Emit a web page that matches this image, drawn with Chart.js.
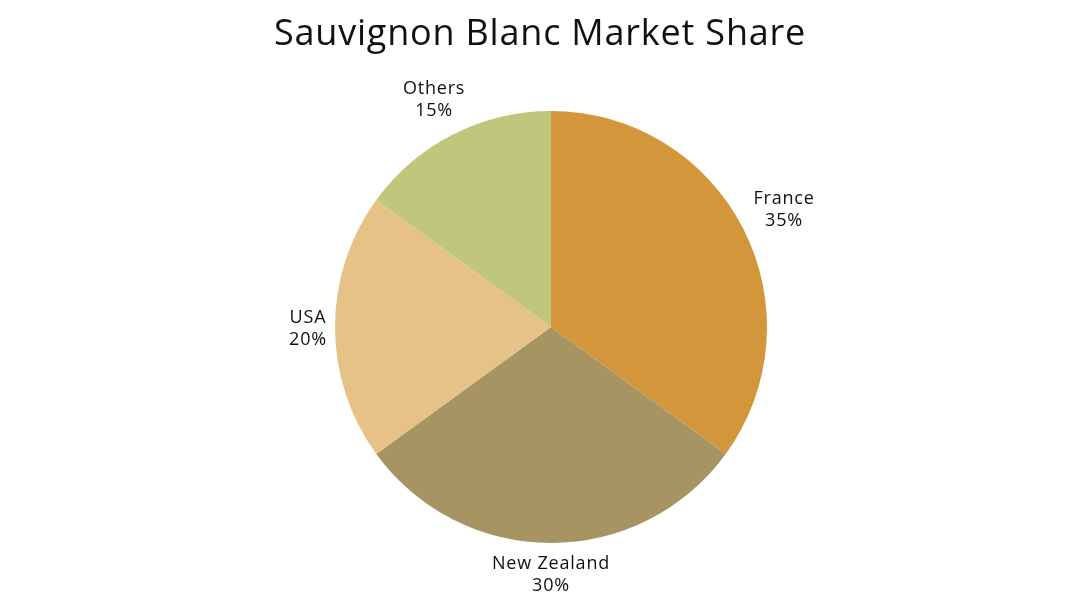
<!DOCTYPE html>
<html>
<head>
<meta charset="utf-8">
<script src="https://cdn.jsdelivr.net/npm/chart.js@4/dist/chart.umd.min.js"></script>
<style>
  html, body { margin: 0; padding: 0; background: #fff; }
  #wrap { width: 1080px; height: 607px; }
</style>
</head>
<body>
<div id="wrap"><canvas id="share-chart" width="1080" height="607"></canvas></div>
<script>
(function () {
    const chartTitle = 'Sauvignon Blanc Market Share';
    const categories = ['France', 'New Zealand', 'USA', 'Others'];
    const shares = [35, 30, 20, 15];
    const sliceColors = ['#D4963A', '#A69563', '#E6C288', '#C0C77D'];

    const fontFamily = "'Open Sans', 'Noto Sans', sans-serif";

    // title drawn by hand so it centres on the canvas, not on the pie
    const titlePlugin = {
        id: 'canvasTitle',
        afterDraw(chart) {
            const c = chart.ctx;
            c.save();
            c.font = `400 36px ${fontFamily}`;
            c.letterSpacing = '0.8px';
            c.fillStyle = '#111';
            c.textAlign = 'center';
            c.textBaseline = 'alphabetic';
            c.fillText(chartTitle, chart.width / 2, 45);
            c.restore();
        }
    };

    // "label / pct%" placed outside each slice, pushed clear of the circle
    const outsideLabels = {
        id: 'outsideLabels',
        afterDatasetsDraw(chart) {
            const c = chart.ctx;
            const meta = chart.getDatasetMeta(0);
            const total = shares.reduce((a, b) => a + b, 0);
            const lineH = 22;
            const minTop = 76;
            c.save();
            c.font = `400 18px ${fontFamily}`;
            c.letterSpacing = '0.8px';
            c.fillStyle = '#111';
            c.textAlign = 'center';
            c.textBaseline = 'middle';
            meta.data.forEach((arc, i) => {
                const p = arc.getProps(['x', 'y', 'startAngle', 'endAngle', 'outerRadius'], true);
                const mid = (p.startAngle + p.endAngle) / 2;
                const dx = Math.cos(mid), dy = Math.sin(mid);
                const R = p.outerRadius + 8;
                const lines = [categories[i], Math.round(shares[i] / total * 100) + '%'];
                const hw = Math.max(...lines.map(l => c.measureText(l).width)) / 2;
                const hh = lineH;
                const gap = (cx, cy) => {
                    const px = Math.min(Math.max(p.x, cx - hw), cx + hw);
                    const py = Math.min(Math.max(p.y, cy - hh), cy + hh);
                    return Math.hypot(px - p.x, py - p.y);
                };
                let t = R, cx, cy;
                do {
                    cx = p.x + dx * t;
                    cy = p.y + dy * t;
                    t += 0.5;
                } while (gap(cx, cy) < R);
                if (cy - hh < minTop) {
                    cy = minTop + hh;
                    const side = dx < 0 ? -1 : 1;
                    while (gap(cx, cy) < R) cx += side * 0.5;
                }
                // small nudge: the font's middle sits a touch above the caps' centre
                c.fillText(lines[0], cx, cy - lineH / 2 + 2);
                c.fillText(lines[1], cx, cy + lineH / 2 + 2);
            });
            c.restore();
        }
    };

    new Chart(document.getElementById('share-chart'), {
        type: 'pie',
        data: {
            labels: categories,
            datasets: [{
                data: shares,
                backgroundColor: sliceColors,
                borderWidth: 0,
            }],
        },
        options: {
            responsive: false,
            animation: false,
            layout: {
                padding: { top: 111, bottom: 64, left: 22, right: 0 },
            },
            plugins: {
                legend: { display: false },
                tooltip: { enabled: false },
            },
        },
        plugins: [titlePlugin, outsideLabels],
    });
})();
</script>
</body>
</html>
